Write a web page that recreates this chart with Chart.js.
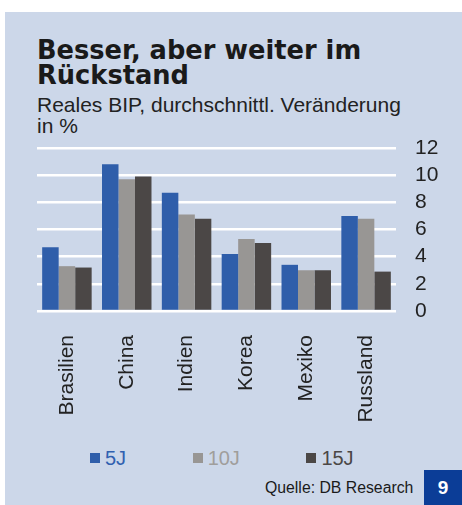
<!DOCTYPE html>
<html>
<head>
<meta charset="utf-8">
<script src="https://cdn.jsdelivr.net/npm/chart.js@4.4.1/dist/chart.umd.min.js"></script>
<style>
  body { margin: 0; background: #fff; width: 462px; height: 505px; position: relative; overflow: hidden; }
  .panel { position: absolute; left: 5px; top: 12px; width: 457px; height: 493px; background: #ccd7e9; }
  .title { position: absolute; left: 37px; top: 38px; font-family: "DejaVu Sans", sans-serif; font-weight: bold; font-size: 25.7px; line-height: 25px; color: #1a1a1a; white-space: nowrap; }
  .sub { position: absolute; left: 37px; top: 94px; font-family: "Liberation Sans", Arial, sans-serif; font-size: 21px; line-height: 21px; color: #222; white-space: nowrap; }
  .chart-box { position: absolute; left: 0; top: 117px; width: 462px; height: 305px; }
  .legend { position: absolute; left: 90px; top: 446px; display: flex; gap: 66.5px; font-family: "Liberation Sans", Arial, sans-serif; font-size: 20px; line-height: 24px; }
  .legend .item { display: flex; align-items: center; }
  .legend .box { width: 10px; height: 10px; margin-right: 5px; }
  .source { position: absolute; left: 265px; top: 479px; font-family: "Liberation Sans", Arial, sans-serif; font-size: 15.8px; line-height: 18px; color: #1a1a1a; white-space: nowrap; }
  .page { position: absolute; left: 424px; top: 470px; width: 38px; height: 35px; background: #0b3d97; color: #fff; font-family: "Liberation Sans", Arial, sans-serif; font-weight: bold; font-size: 19px; line-height: 35px; text-align: center; }
</style>
</head>
<body>
<div class="panel"></div>
<div class="title">Besser, aber weiter im<br>Rückstand</div>
<div class="sub">Reales BIP, durchschnittl. Veränderung<br>in %</div>
<div class="chart-box"><canvas id="bipChart"></canvas></div>
<div class="legend" id="legend"></div>
<div class="source">Quelle: DB Research</div>
<div class="page">9</div>
<script>
const countries = ["Brasilien", "China", "Indien", "Korea", "Mexiko", "Russland"];
const seriesNames = ["5J", "10J", "15J"];
const fiveYears = [4.7, 10.8, 8.7, 4.2, 3.4, 7.0];
const tenYears = [3.3, 9.7, 7.1, 5.3, 3.0, 6.8];
const fifteenYears = [3.2, 9.9, 6.8, 5.0, 3.0, 2.9];
const yMin = 0;
const yMax = 12;
const yStep = 2;

const barColors = ["#2f5eaa", "#989694", "#4b4746"];
const legendText = ["#3060b0", "#a09e9c", "#4b4746"];

let ctx = document.getElementById("bipChart").getContext("2d");
let bipChart = new Chart(ctx, {
  type: "bar",
  data: {
    labels: countries,
    datasets: [
      { label: seriesNames[0], data: fiveYears, backgroundColor: barColors[0] },
      { label: seriesNames[1], data: tenYears, backgroundColor: barColors[1] },
      { label: seriesNames[2], data: fifteenYears, backgroundColor: barColors[2] },
    ],
  },
  options: {
    responsive: true,
    maintainAspectRatio: false,
    animation: false,
    datasets: { bar: { categoryPercentage: 0.827, barPercentage: 1 } },
    layout: { padding: { left: 37, right: 20, top: 0, bottom: 0 } },
    plugins: {
      tooltip: { enabled: false },
      legend: { display: false },
    },
    scales: {
      x: {
        grid: { display: false, drawTicks: false },
        border: { display: false },
        ticks: {
          minRotation: 90,
          maxRotation: 90,
          padding: 24,
          color: "#222",
          font: { family: "Liberation Sans", size: 21 },
        },
        afterFit: (scale) => {
          scale.height = 111;
        },
      },
      y: {
        position: "right",
        min: yMin,
        max: yMax,
        grid: { color: "#ffffff", lineWidth: 2.5, drawTicks: false },
        border: { display: false },
        ticks: {
          stepSize: yStep,
          autoSkip: false,
          padding: 19,
          color: "#222",
          font: { family: "Liberation Sans", size: 21, lineHeight: "24px" },
        },
        afterFit: (scale) => {
          scale.width = 46;
        },
      },
    },
  },
});

// html legend built from the chart datasets
let legend = document.getElementById("legend");
bipChart.data.datasets.forEach((ds, i) => {
  let item = document.createElement("div");
  item.className = "item";
  item.innerHTML = `<span class="box" style="background:${ds.backgroundColor}"></span><span style="color:${legendText[i]}">${ds.label}</span>`;
  legend.appendChild(item);
});
</script>
</body>
</html>
